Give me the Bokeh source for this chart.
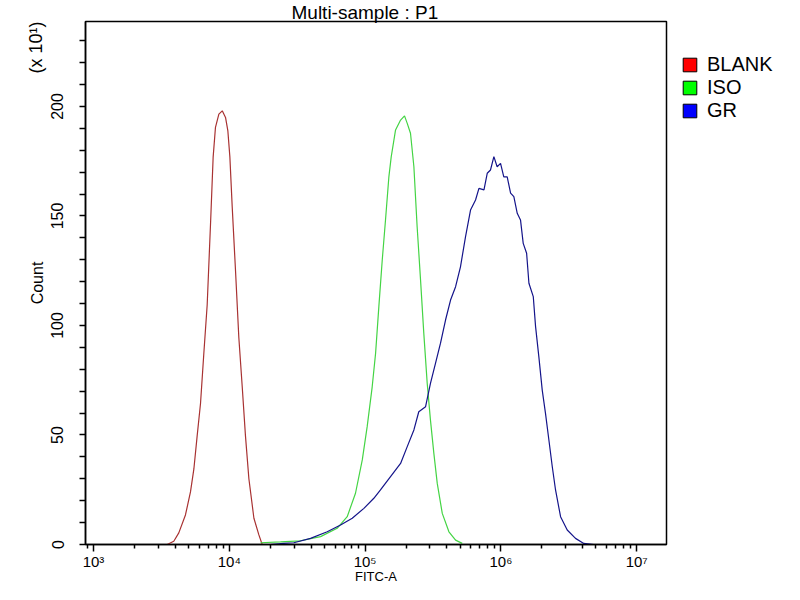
from bokeh.plotting import figure
from bokeh.layouts import row
from bokeh.models import Range1d, FixedTicker, Legend, LegendItem, Title
from bokeh.embed import file_html
from bokeh.resources import INLINE

# ---------------- data ----------------
blank_fitc = [3491, 3899, 4246, 4753, 5176, 5483, 5794, 6138, 6486, 6871, 7278, 7603,
              7907, 8375, 8872, 9376, 9750, 10093, 10495, 11117, 11749, 12445, 13152,
              13932, 15171, 16482, 17458]
blank_count = [0, 1.5, 5.3, 13.5, 24, 34.5, 49.5, 64.5, 87, 109.5, 147, 177,
               190.5, 196.5, 198, 195, 189, 177, 154.5, 124.5, 94.5, 72, 49.5,
               30, 12, 4.5, 0]

iso_fitc = [16982, 23823, 33420, 46989, 62230, 73790, 84918, 95280, 103514, 112720,
            119399, 126183, 133660, 141254, 149624, 155597, 167494, 182390, 194984,
            204174, 215774, 228560, 241546, 255859, 270396, 286418, 302691, 320627,
            339625, 369828, 414000, 463447, 518800]
iso_count = [0.8, 1.2, 1.7, 3.6, 7.4, 12.7, 23.4, 38.6, 53.8, 72,
             87.3, 108.6, 129.9, 148.2, 168, 177, 189.3, 193.8, 195.7,
             192.3, 187.8, 172.5, 145, 120.8, 96.4, 73.6, 56.8, 41.6,
             27.9, 14.2, 5.8, 2, 0.5]

gr_fitc = [19953, 25119, 29854, 39628, 52602, 65917, 80353, 97949, 115878, 129718,
           153815, 182390, 204174, 228560, 248313, 278612, 302691, 329610, 358922,
           390841, 425598, 463447, 503501, 548277, 597035, 650130, 688652, 749894,
           792500, 837529, 887156, 937562, 993116, 1049542, 1111732, 1177606,
           1244515, 1318257, 1393157, 1458814, 1545254, 1606941, 1729816, 1798871,
           1901078, 2013724, 2128139, 2254239, 2387811, 2523481, 2747894, 3076097,
           3539973, 4073803, 4830588]
gr_count = [0, 0.5, 0.8, 2.8, 5.8, 8.9, 12, 16.5, 21.1, 24.9,
            31, 37, 44.7, 52.3, 60.6, 62.9, 73.6, 82.7, 91.9,
            102.5, 111.6, 117.7, 126.8, 140.5, 152.7, 157.3, 162.6, 161.9,
            169.5, 171, 177.1, 172.5, 174, 167.9, 167.9, 160.4,
            158.8, 151.2, 148.2, 137.5, 133, 119.3, 113.2, 99.5,
            85.8, 70.5, 59.9, 47.7, 35.5, 24.9, 12.7, 6.6,
            2.8, 0.5, 0]

series_names = ["BLANK", "ISO", "GR"]
x_major = [1e3, 1e4, 1e5, 1e6, 1e7]
x_major_labels = ["10\u00b3", "10\u2074", "10\u2075", "10\u2076", "10\u2077"]
y_major = [0, 50, 100, 150, 200]
y_minor = [10, 20, 30, 40, 60, 70, 80, 90, 110, 120, 130, 140, 160, 170, 180, 190,
           210, 220, 230]

# ---------------- main figure ----------------
FONT = "Liberation Sans"
X0, X1 = 10 ** 2.941, 10 ** 7.219
p = figure(width=672, height=584, output_backend="svg", toolbar_location=None,
           x_axis_type="log",
           x_range=Range1d(X0, X1),
           y_range=Range1d(0, 238.8),
           min_border_left=85, min_border_right=6,
           min_border_top=21, min_border_bottom=40)
p.background_fill_color = "white"
p.border_fill_color = "white"
p.outline_line_color = "black"
p.outline_line_width = 1.5
p.grid.visible = False

# title
p.title.text = "Multi-sample : P1"
p.title.align = "left"
p.title.offset = 206
p.title.standoff = -2
p.title.text_font = FONT
p.title.text_font_size = "19px"
p.title.text_font_style = "normal"
p.title.text_color = "black"

line_colors = ["#a83232", "#44d444", "#14148a"]
p.line(blank_fitc, blank_count, line_color=line_colors[0], line_width=1.2)
p.line(iso_fitc, iso_count, line_color=line_colors[1], line_width=1.2)
p.line(gr_fitc, gr_count, line_color=line_colors[2], line_width=1.2)

# x axis
x_minor = []
for dec in range(2, 7):
    for k in range(2, 10):
        v = k * 10 ** dec
        if X0 <= v <= X1:
            x_minor.append(v)
xa = p.xaxis[0]
xa.ticker = FixedTicker(ticks=x_major, minor_ticks=x_minor)
xa.major_label_overrides = {v: s for v, s in zip(x_major, x_major_labels)}
xa.axis_line_color = "black"
xa.axis_line_width = 1.5
xa.major_tick_line_color = "black"
xa.minor_tick_line_color = "black"
xa.major_tick_line_width = 1.5
xa.minor_tick_line_width = 1.5
xa.major_tick_in = 0
xa.major_tick_out = 7
xa.minor_tick_in = 0
xa.minor_tick_out = 4
xa.major_label_text_font = FONT
xa.major_label_text_font_size = "15px"
xa.major_label_text_color = "black"
xa.major_label_standoff = 1

fitc_title = Title(text="FITC-A", align="center", standoff=-11,
                   text_font=FONT, text_font_size="13px", text_font_style="normal",
                   text_color="black")
p.add_layout(fitc_title, "below")

ya = p.yaxis[0]
ya.ticker = FixedTicker(ticks=y_major, minor_ticks=y_minor)
ya.axis_line_color = "black"
ya.axis_line_width = 1.5
ya.major_tick_line_color = "black"
ya.minor_tick_line_color = "black"
ya.major_tick_line_width = 1.5
ya.minor_tick_line_width = 1.5
ya.major_tick_in = 0
ya.major_tick_out = 6
ya.minor_tick_in = 0
ya.minor_tick_out = 6
ya.major_label_orientation = "vertical"
ya.major_label_text_font = FONT
ya.major_label_text_font_size = "16px"
ya.major_label_text_color = "black"
ya.major_label_standoff = 16
ya.axis_label = "Count"
ya.axis_label_text_font = FONT
ya.axis_label_text_font_size = "16px"
ya.axis_label_text_font_style = "normal"
ya.axis_label_text_color = "black"
ya.axis_label_standoff = 3

# "(x 10^1)" multiplier note at the top of the y axis
mult = Title(text="(x 10\u00b9)", align="right", offset=0, standoff=-41,
             text_font=FONT, text_font_size="18px", text_font_style="normal",
             text_color="black")
p.add_layout(mult, "left")

# ---------------- legend panel (second, axis-less figure) ----------------
lg = figure(width=112, height=584, output_backend="svg", toolbar_location=None,
            x_range=Range1d(0, 1), y_range=Range1d(0, 1),
            x_axis_location=None, y_axis_location=None,
            min_border_left=0, min_border_right=0, min_border_top=0,
            min_border_bottom=0)
lg.outline_line_color = None
lg.grid.visible = False
lg.background_fill_color = "white"
lg.border_fill_color = "white"

swatch_colors = ["#ff0000", "#00ff00", "#0000ff"]
items = []
for name, c in zip(series_names, swatch_colors):
    # swatch renderers hold one box outside the visible range: only the legend shows them
    r = lg.quad(left=[5], right=[6], top=[6], bottom=[5],
                fill_color=c, line_color="black", line_width=1)
    items.append(LegendItem(label=name, renderers=[r]))
legend = Legend(items=items, location=(9, 422), orientation="vertical",
                glyph_width=17, glyph_height=17, label_standoff=9, spacing=0,
                padding=0, margin=0, border_line_color=None,
                background_fill_alpha=0, label_text_font=FONT,
                label_text_font_size="20px", label_text_color="black",
                label_height=17)
lg.add_layout(legend, "center")

layout = row(p, lg)
open("out.html", "w").write(file_html(layout, INLINE))
